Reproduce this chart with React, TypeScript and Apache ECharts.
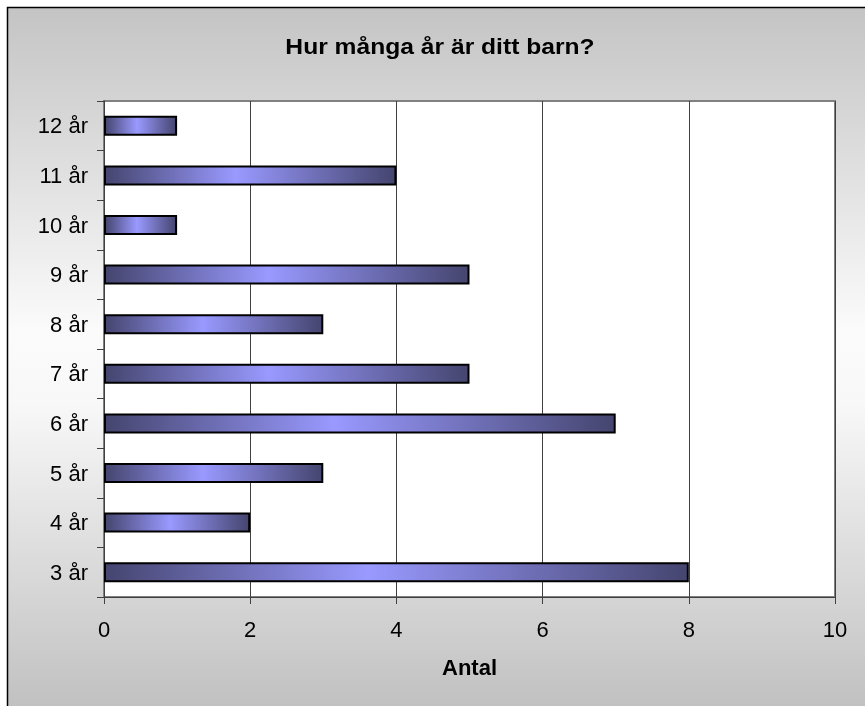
import React, { useEffect, useRef } from "react";
import * as echarts from "echarts";

const categories = ["3 år", "4 år", "5 år", "6 år", "7 år", "8 år", "9 år", "10 år", "11 år", "12 år"];
const values = [8, 2, 3, 7, 5, 3, 5, 1, 4, 1];
const xTicks = [0, 2, 4, 6, 8, 10];
const titleText = "Hur många år är ditt barn?";
const axisName = "Antal";

export default function App() {
  const ref = useRef<HTMLDivElement>(null);
  useEffect(() => {
    if (!ref.current) return;
    const chart = echarts.init(ref.current, null, { renderer: "svg" });
    const font = "Arial, 'Liberation Sans', sans-serif";
    chart.setOption({
      animation: false,
      backgroundColor: "transparent",
      graphic: [
        {
          type: "rect",
          z: -10,
          shape: { x: 7.5, y: 7.5, width: 880, height: 720 },
          style: {
            fill: new echarts.graphic.LinearGradient(0, 0, 0, 1, [
              { offset: 0, color: "#c4c4c4" },
              { offset: 0.45, color: "#fbfbfb" },
              { offset: 0.55, color: "#f8f8f8" },
              { offset: 1, color: "#bdbdbd" },
            ]),
            stroke: "#000",
            lineWidth: 1.5,
          },
        },
        {
          type: "text",
          x: 440,
          y: 46,
          scaleX: 1.12,
          style: {
            text: titleText,
            font: `bold 22px ${font}`,
            fill: "#000",
            textAlign: "center",
            textVerticalAlign: "middle",
          },
        },
      ],
      grid: {
        left: 104,
        top: 101,
        right: 30,
        bottom: 109,
        show: true,
        backgroundColor: "#fff",
        borderColor: "#808080",
        borderWidth: 2,
      },
      xAxis: {
        type: "value",
        min: 0,
        max: 10,
        interval: 2,
        name: axisName,
        nameLocation: "middle",
        nameGap: 59,
        nameTextStyle: { fontFamily: font, fontWeight: "bold", fontSize: 22, color: "#000" },
        axisLine: { show: true, lineStyle: { color: "#404040", width: 1 } },
        axisTick: { show: true, length: 7, lineStyle: { color: "#404040" } },
        axisLabel: {
          fontFamily: font,
          fontSize: 22,
          color: "#000",
          margin: 21,
          formatter: (v: number) => (xTicks.includes(v) ? String(v) : ""),
        },
        splitLine: { show: true, lineStyle: { color: "#404040", width: 1 } },
      },
      yAxis: {
        type: "category",
        data: categories,
        axisLine: { show: true, lineStyle: { color: "#404040", width: 1 } },
        axisTick: { show: true, length: 7, lineStyle: { color: "#404040" } },
        axisLabel: { fontFamily: font, fontSize: 22, color: "#000", margin: 16 },
        splitLine: { show: false },
      },
      series: [
        {
          type: "bar",
          data: values,
          barWidth: 20,
          itemStyle: {
            color: new echarts.graphic.LinearGradient(0, 0, 1, 0, [
              { offset: 0, color: "#45456f" },
              { offset: 0.45, color: "#9999ff" },
              { offset: 1, color: "#45456f" },
            ]),
            borderColor: "#000",
            borderWidth: 2,
          },
        },
      ],
    });
    return () => chart.dispose();
  }, []);
  return (
    <div
      ref={ref}
      style={{ position: "fixed", left: 0, top: 0, width: 865, height: 706 }}
    />
  );
}
